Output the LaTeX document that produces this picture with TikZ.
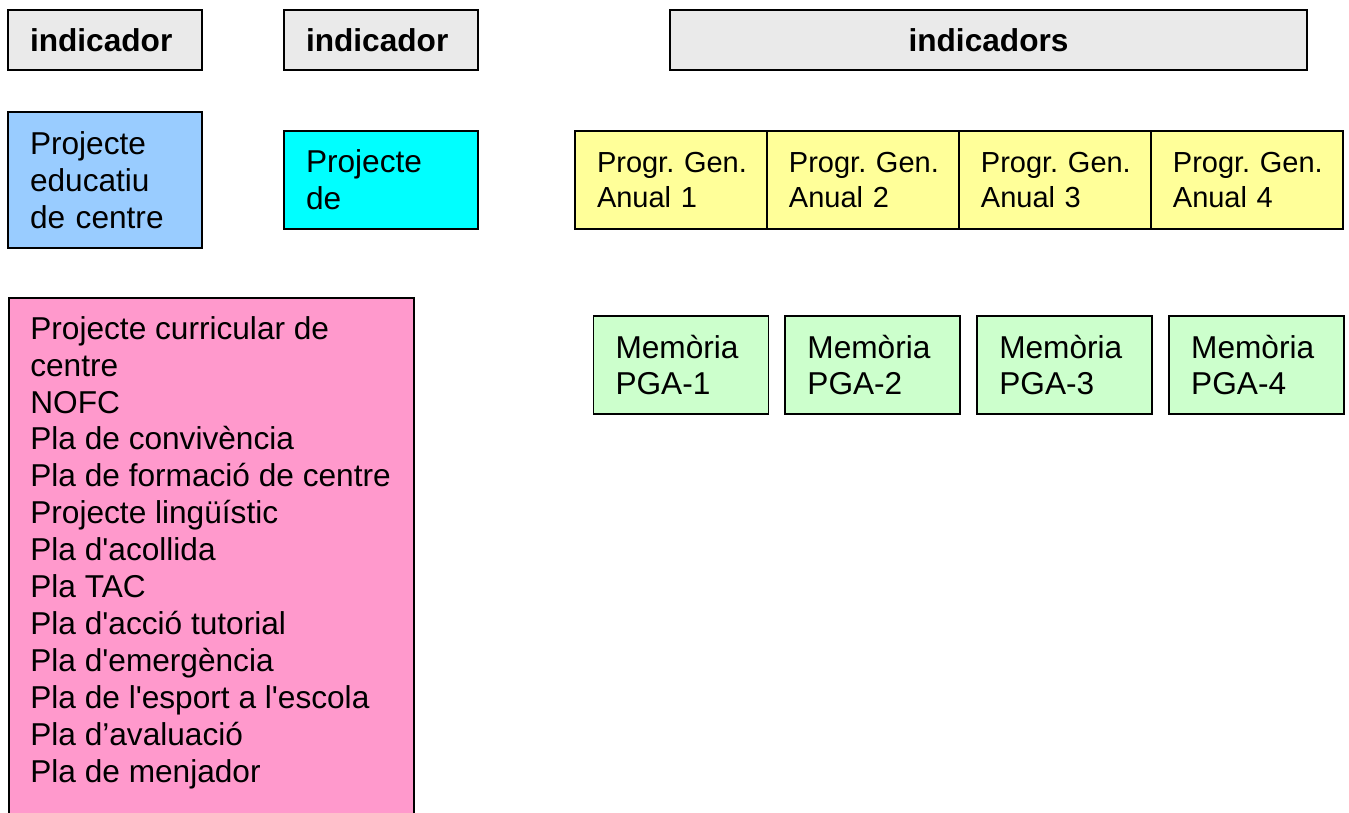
\documentclass[tikz,border=0pt]{standalone}
\usepackage{fontspec}
\setmainfont{Liberation Sans}
\usetikzlibrary{positioning}
\definecolor{headgray}{HTML}{EAEAEA}
\definecolor{pecblue}{HTML}{99CCFF}
\definecolor{pdcyan}{HTML}{00FFFF}
\definecolor{pgayellow}{HTML}{FFFF99}
\definecolor{memgreen}{HTML}{CCFFCC}
\definecolor{plapink}{HTML}{FF99CC}
\newcommand{\apos}{\textquotesingle}
\tikzset{
    box/.style = {
        draw,
        rectangle,
        line width = 1.1pt,
        inner xsep = 0.44cm,
        inner ysep = 0pt,
        align = left,
        font = \fontsize{18}{21}\selectfont
    },
    head/.style = {
        box,
        fill = headgray,
        minimum height = 1.2cm,
        text width = 3cm,
        font = \fontsize{18}{21}\selectfont\bfseries
    },
    pga/.style = {
        box,
        fill = pgayellow,
        outer sep = 0pt,
        minimum height = 1.96cm,
        text width = 2.96cm,
        font = \fontsize{16.5}{19.5}\selectfont
    },
    memoria/.style = {
        box,
        fill = memgreen,
        minimum height = 1.96cm,
        text width = 2.62cm
    }
}

\begin{document}
\begin{tikzpicture}[x=0.02cm, y=-0.02cm]
    \useasboundingbox (0,0) rectangle (1349,812);
    % headers
    \node[head] (ind1) at (105,40) {indicador};
    \node[head] (ind2) at (381,40) {indicador};
    \node[head, text width=11.86cm, align=center] (inds) at (988.5,40) {indicadors};
    % projectes
    \node[box, fill=pecblue, text width=3cm, minimum height=2.72cm] (pec) at (105,180)
        {Projecte\\educatiu\\de centre};
    \node[box, fill=pdcyan, text width=3cm, minimum height=1.96cm] (pd) at (381,180)
        {Projecte\\de};
    % programacions anuals
    \node[pga] (pga1) at (671,180) {Progr.~Gen.\\Anual 1};
    \foreach \i [count=\j from 2] in {1, 2, 3}{
        \node[pga, right=0pt of pga\i] (pga\j) {Progr.~Gen.\\Anual \j};
    }
    % memories
    \node[memoria] (mem1) at (681,365) {Memòria\\PGA-1};
    \foreach \i [count=\j from 2] in {1, 2, 3}{
        \node[memoria, right=0.3cm of mem\i] (mem\j) {Memòria\\PGA-\j};
    }
    % plans
    \node[box, fill=plapink, anchor=north west, minimum width=8.1cm, minimum height=11cm] (pla) at (8,297) {};
    \node[anchor=north west, inner sep=0pt, align=left, font=\fontsize{18}{21}\selectfont] (plallista) at (30,316)
        {Projecte curricular de\\centre\\NOFC\\Pla de convivència\\Pla de formació de centre\\
         Projecte lingüístic\\Pla d\apos acollida\\Pla TAC\\Pla d\apos acció tutorial\\Pla d\apos emergència\\
         Pla de l\apos esport a l\apos escola\\Pla d’avaluació\\Pla de menjador};
\end{tikzpicture}
\end{document}
